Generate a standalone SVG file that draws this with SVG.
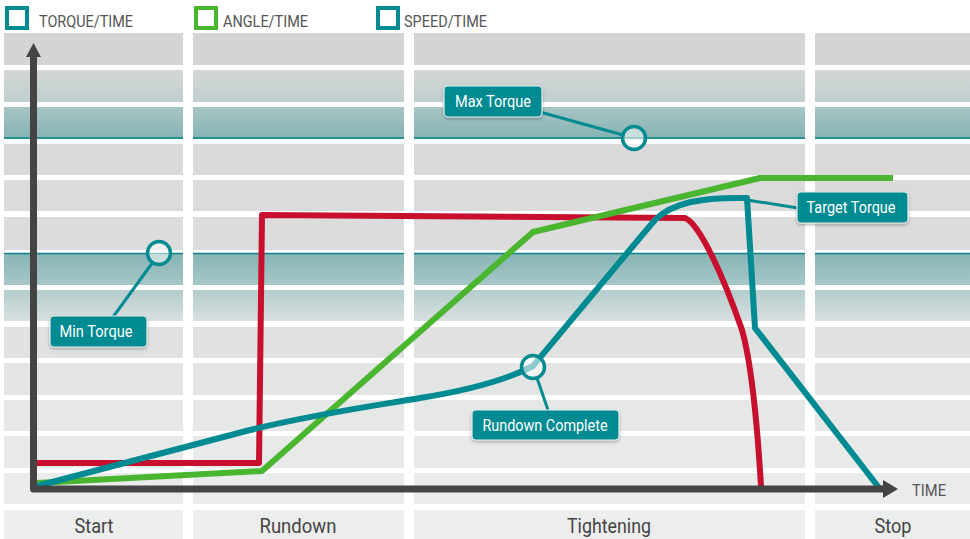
<svg xmlns="http://www.w3.org/2000/svg" width="970" height="539" viewBox="0 0 970 539">
<style>
  .lg { font-family: Roboto, "Liberation Sans", sans-serif; font-size: 16px; fill: #555; }
  .ph { font-family: Roboto, "Liberation Sans", sans-serif; font-size: 20px; fill: #444; text-anchor: middle; }
  .lb { font-family: Roboto, "Liberation Sans", sans-serif; font-size: 16px; fill: #fff; text-anchor: middle; }
  .box { fill: #008a91; stroke: #e6ecec; stroke-width: 1.2; filter: url(#sh); }
  .lead { fill: none; stroke: #008a91; stroke-width: 3; }
  .dot { fill: #ffffff; fill-opacity: 0.55; stroke: #008a91; stroke-width: 3.5; }
  .curve { fill: none; stroke-width: 6; stroke-linejoin: round; stroke-linecap: butt; }
  .gap { fill: #ffffff; }
  .tl { stroke: #0b8288; stroke-width: 1.5; }
</style>
<defs>
  <linearGradient id="g1" x1="0" y1="0" x2="0" y2="1"><stop offset="0" stop-color="#d6d6d6"/><stop offset="1" stop-color="#bfcfcf"/></linearGradient>
  <linearGradient id="g2" x1="0" y1="0" x2="0" y2="1"><stop offset="0" stop-color="#a8c5c5"/><stop offset="1" stop-color="#85b3b4"/></linearGradient>
  <linearGradient id="g6" x1="0" y1="0" x2="0" y2="1"><stop offset="0" stop-color="#86b4b5"/><stop offset="1" stop-color="#a7c7c7"/></linearGradient>
  <linearGradient id="g7" x1="0" y1="0" x2="0" y2="1"><stop offset="0" stop-color="#b4cdcd"/><stop offset="1" stop-color="#d9dfdf"/></linearGradient>
  <filter id="sh" x="-20%" y="-30%" width="140%" height="170%">
    <feDropShadow dx="0" dy="1.5" stdDeviation="1.8" flood-color="#000" flood-opacity="0.3"/>
  </filter>
</defs>

<g id="background">
  <rect x="4" y="33" width="966" height="32" fill="#d4d4d4"/>
  <rect x="4" y="70" width="966" height="32" fill="url(#g1)"/>
  <rect x="4" y="107" width="966" height="32" fill="url(#g2)"/>
  <line class="tl" x1="4" y1="138" x2="970" y2="138"/>
  <rect x="4" y="144" width="966" height="31" fill="#d9d9d9"/>
  <rect x="4" y="180" width="966" height="31" fill="#dbdbdb"/>
  <rect x="4" y="217" width="966" height="33" fill="#dcdcdc"/>
  <rect x="4" y="253" width="966" height="32" fill="url(#g6)"/>
  <line class="tl" x1="4" y1="253.5" x2="970" y2="253.5"/>
  <rect x="4" y="290" width="966" height="31" fill="url(#g7)"/>
  <rect x="4" y="327" width="966" height="31" fill="#e0e1e1"/>
  <rect x="4" y="363" width="966" height="32" fill="#e3e4e4"/>
  <rect x="4" y="400" width="966" height="31" fill="#e6e7e7"/>
  <rect x="4" y="436" width="966" height="32" fill="#e8e9e9"/>
  <rect x="4" y="473" width="966" height="31" fill="#eaebeb"/>
  <rect x="4" y="510" width="966" height="29" fill="#eceeee"/>
  <rect class="gap" x="183" y="30" width="10" height="509"/>
  <rect class="gap" x="404" y="30" width="10" height="509"/>
  <rect class="gap" x="805" y="30" width="10" height="509"/>
</g>

<g id="legend">
  <rect x="7" y="8" width="20" height="20" fill="none" stroke="#008a91" stroke-width="4"/>
  <text class="lg" x="39" y="27" textLength="94" lengthAdjust="spacingAndGlyphs">TORQUE/TIME</text>
  <rect x="196" y="8" width="20" height="20" fill="none" stroke="#4ab52e" stroke-width="4"/>
  <text class="lg" x="223" y="27" textLength="85" lengthAdjust="spacingAndGlyphs">ANGLE/TIME</text>
  <rect x="378" y="8" width="20" height="20" fill="none" stroke="#008a91" stroke-width="4"/>
  <text class="lg" x="404" y="27" textLength="83" lengthAdjust="spacingAndGlyphs">SPEED/TIME</text>
</g>

<g id="phases">
  <text class="ph" x="94" y="533" textLength="39" lengthAdjust="spacingAndGlyphs">Start</text>
  <text class="ph" x="298" y="533" textLength="77" lengthAdjust="spacingAndGlyphs">Rundown</text>
  <text class="ph" x="609" y="533" textLength="84" lengthAdjust="spacingAndGlyphs">Tightening</text>
  <text class="ph" x="893" y="533" textLength="37" lengthAdjust="spacingAndGlyphs">Stop</text>
</g>

<g id="connectors">
  <path id="torque-curve" class="curve" stroke="#c8102e" d="M37,463 H259 L262,215 L685,218 C700,224 724,278 742,330 C752,365 757,420 761,486"/>
  <path id="angle-curve" class="curve" stroke="#4ab52e" d="M37,483 L262,471 L533,232 L760,178 L893,178"/>
  <path id="speed-curve" class="curve" stroke="#008a91" d="M37,486 L250,430 C320,413 380,405 420,398 C470,390 510,378 533,366 C555,340 625,255 655,220 C672,203 700,197 747,198 L755,328 L880,489"/>
  <line class="lead" x1="113" y1="317" x2="153" y2="262"/>
  <line class="lead" x1="540" y1="112" x2="623" y2="135"/>
  <line class="lead" x1="747" y1="200" x2="798" y2="208"/>
  <line class="lead" x1="537" y1="378" x2="548" y2="410"/>
</g>

<g id="axes">
  <path d="M33.5,57 V489 H884" fill="none" stroke="#444" stroke-width="7" stroke-linejoin="round"/>
  <polygon points="26,57 33.5,43 41,57" fill="#444"/>
  <polygon points="883,480 898,489 883,498" fill="#444"/>
  <text class="lg" x="912" y="496" textLength="34" lengthAdjust="spacingAndGlyphs" fill="#444">TIME</text>
</g>

<g id="min-torque">
  <circle class="dot" cx="159" cy="253" r="11.5"/>
  <rect class="box" x="50" y="316" width="97" height="31" rx="4"/>
  <text class="lb" x="96" y="337" textLength="73" lengthAdjust="spacingAndGlyphs">Min Torque</text>
</g>

<g id="max-torque">
  <circle class="dot" cx="634" cy="138" r="11.5"/>
  <rect class="box" x="444" y="86" width="98" height="31" rx="4"/>
  <text class="lb" x="493" y="107" textLength="76" lengthAdjust="spacingAndGlyphs">Max Torque</text>
</g>

<g id="target-torque">
  <rect class="box" x="797" y="192" width="111" height="31" rx="4"/>
  <text class="lb" x="851" y="213" textLength="89" lengthAdjust="spacingAndGlyphs">Target Torque</text>
</g>

<g id="rundown-complete">
  <circle class="dot" cx="533" cy="367" r="11.5"/>
  <rect class="box" x="472" y="410" width="147" height="30" rx="4"/>
  <text class="lb" x="545" y="431" textLength="125" lengthAdjust="spacingAndGlyphs">Rundown Complete</text>
</g>
</svg>
